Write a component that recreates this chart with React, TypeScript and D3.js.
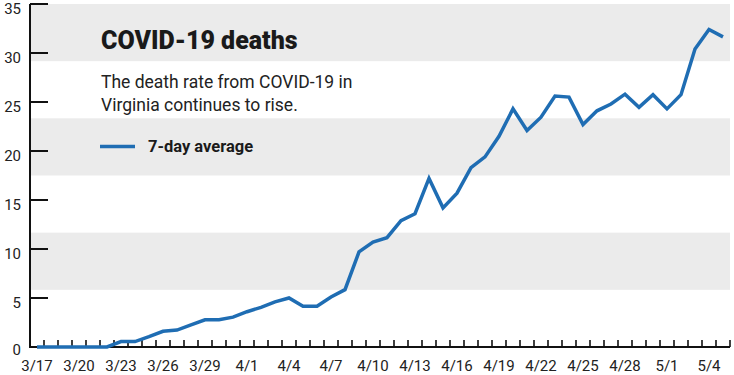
import React from "react";
import * as d3 from "d3";

const dates: string[] = [
  "3/17","3/18","3/19","3/20","3/21","3/22","3/23","3/24","3/25","3/26",
  "3/27","3/28","3/29","3/30","3/31","4/1","4/2","4/3","4/4","4/5",
  "4/6","4/7","4/8","4/9","4/10","4/11","4/12","4/13","4/14","4/15",
  "4/16","4/17","4/18","4/19","4/20","4/21","4/22","4/23","4/24","4/25",
  "4/26","4/27","4/28","4/29","4/30","5/1","5/2","5/3","5/4","5/5",
];
const avgDeaths: number[] = [
  0,0,0,0,0,0,0.55,0.55,1.05,1.6,
  1.73,2.25,2.78,2.78,3.05,3.6,4.05,4.6,5.0,4.15,
  4.15,5.1,5.85,9.7,10.7,11.15,12.9,13.6,17.2,14.2,
  15.7,18.3,19.4,21.5,24.3,22.1,23.45,25.6,25.5,22.7,
  24.1,24.8,25.8,24.45,25.75,24.3,25.75,30.4,32.4,31.65,
];
const yTicks: number[] = [0, 5, 10, 15, 20, 25, 30, 35];
const xLabelEvery = 3;

const title = "COVID-19 deaths";
const subtitle = ["The death rate from COVID-19 in", "Virginia continues to rise."];
const legendLabel = "7-day average";

const W = 734;
const H = 375;
const left = 30;
const right = 730;
const top = 4;
const bottom = 347;
const FONT = "Roboto, 'Noto Sans', sans-serif";
const BLUE = "#1f6db3";

export default function App() {
  const x = d3.scaleBand<string>().domain(dates).range([left, right]);
  const xc = (d: string) => (x(d) ?? 0) + x.bandwidth() / 2;
  const y = d3.scaleLinear().domain([0, 35]).range([bottom, top]);
  const line = d3
    .line<number>()
    .x((_, i) => xc(dates[i]))
    .y((v) => y(v))
    .curve(d3.curveLinear);

  const stripes = d3.range(6).map((k) => {
    const v0 = 35 - (35 / 6) * k;
    const v1 = 35 - (35 / 6) * (k + 1);
    return { k, y0: y(v0), y1: y(v1) };
  });

  const boundaries = dates.map((d) => (x(d) ?? 0) + x.bandwidth());

  return (
    <svg
      width={W}
      height={H}
      style={{ position: "absolute", left: 0, top: 0, background: "#fff" }}
      fontFamily={FONT}
    >
      {stripes
        .filter((s) => s.k % 2 === 0)
        .map((s) => (
          <rect key={s.k} x={left} y={s.y0} width={right - left} height={s.y1 - s.y0} fill="#ebebeb" />
        ))}

      {/* title & legend */}
      <text x={101} y={49} fontSize={25} fontWeight={900} fill="#1a1a1a">{title}</text>
      {subtitle.map((t, i) => (
        <text key={i} x={101} y={88 + i * 23} fontSize={17.5} fill="#222">{t}</text>
      ))}
      <line x1={100} x2={135} y1={146.5} y2={146.5} stroke={BLUE} strokeWidth={3.5} />
      <text x={148} y={152} fontSize={16.5} fontWeight={700} fill="#1a1a1a">{legendLabel}</text>

      {/* axes */}
      <line x1={left} x2={left} y1={top} y2={bottom + 1} stroke="#111" strokeWidth={2} />
      <line x1={left} x2={right} y1={bottom} y2={bottom} stroke="#111" strokeWidth={2} />
      {yTicks.map((t) => (
        <g key={t}>
          <line x1={left} x2={48} y1={y(t)} y2={y(t)} stroke="#111" strokeWidth={2} />
          <text x={21} y={y(t) + (t === 0 ? 3 : 5)} dy="0.35em" textAnchor="end" fontSize={15} fill="#222">
            {t}
          </text>
        </g>
      ))}
      {boundaries.map((bx, i) => (
        <line key={i} x1={bx} x2={bx} y1={bottom} y2={bottom - 7} stroke="#111" strokeWidth={1.6} />
      ))}
      {dates.map((d, i) =>
        i % xLabelEvery === 0 ? (
          <text key={d} x={xc(d)} y={371} textAnchor="middle" fontSize={15} fill="#222">
            {d}
          </text>
        ) : null
      )}

      <path
        d={line(avgDeaths) ?? ""}
        fill="none"
        stroke={BLUE}
        strokeWidth={3.5}
        strokeLinejoin="miter"
      />
    </svg>
  );
}
